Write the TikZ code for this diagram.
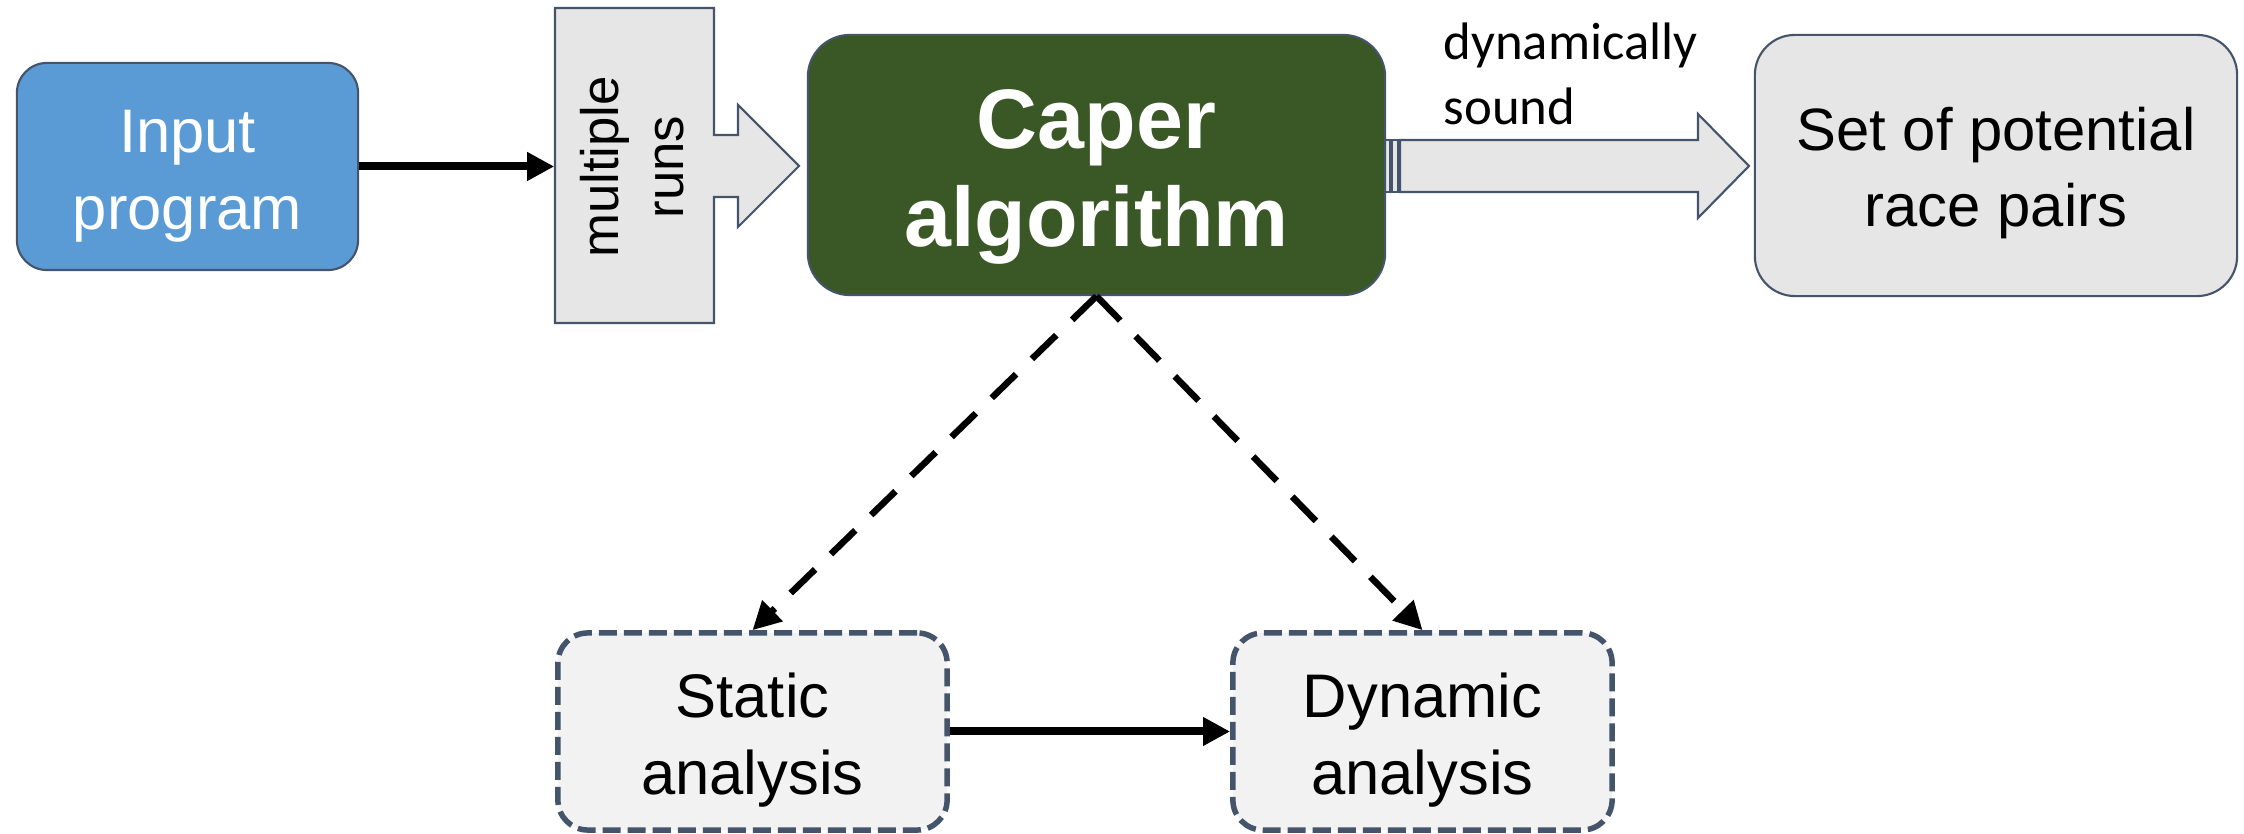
\documentclass[tikz,border=0pt]{standalone}
\usepackage{fontspec}
\setmainfont{Liberation Sans}
\newfontfamily\calib{Carlito}
\usetikzlibrary{arrows.meta}
\definecolor{inblue}{HTML}{5B9BD5}
\definecolor{cgreen}{HTML}{3A5726}
\definecolor{lgray}{HTML}{E6E6E6}
\definecolor{vlgray}{HTML}{F2F2F2}
\definecolor{slate}{HTML}{44546A}
\newcommand\lowtext[2]{\raisebox{-#1}[\height][\depth]{\begin{tabular}{@{}c@{}}#2\end{tabular}}}
\begin{document}
\begin{tikzpicture}[x=0.01cm,y=-0.01cm,
  box/.style={rectangle, draw=slate, line width=0.6pt, align=center, inner sep=0pt},
  dbox/.style={rectangle, rounded corners=0.3cm, draw=slate, fill=vlgray, line width=0.055cm,
    dash pattern=on 0.18cm off 0.07cm, align=center, inner sep=0pt, minimum height=1.97cm},
  shapeline/.style={draw=slate, fill=lgray, line width=0.6pt, line join=miter},
  conn/.style={-{Triangle[length=0.27cm,width=0.27cm]}, line width=0.08cm},
  dconn/.style={-{Triangle[length=0.28cm,width=0.28cm]}, line width=0.065cm, dash pattern=on 0.34cm off 0.22cm}]
\useasboundingbox (0,0) rectangle (2244,834);
\fill[white] (0,0) rectangle (2244,834);

% multiple runs arrow shape
\path[shapeline] (555,8) -- (714,8) -- (714,135) -- (738,135) -- (738,105) -- (799,166)
  -- (738,227) -- (738,197) -- (714,197) -- (714,323) -- (555,323) -- cycle;
\node[inner sep=0pt, minimum width=1.59cm, minimum height=3.15cm] (runs) at (634.5,165.5) {};
\node[rotate=90, align=center, inner sep=0pt, font=\fontsize{15}{18.5}\selectfont] (runstext) at (632,167) {multiple\\runs};

% striped arrow from Caper to result
\path[shapeline] (1400,140) -- (1698,140) -- (1698,114) -- (1749,166) -- (1698,218) -- (1698,192) -- (1400,192) -- cycle;
\path[shapeline] (1385,140) rectangle (1390,192);
\path[shapeline] (1392,140) rectangle (1398,192);
\node[anchor=north west, align=left, inner sep=0pt, font=\calib\fontsize{15}{18.5}\selectfont] (dyn) at (1443,22) {dynamically\\sound};

% main nodes
\node[box, fill=inblue, rounded corners=0.3cm, minimum width=3.41cm, minimum height=2.07cm,
  text=white, font=\fontsize{17.5}{22}\selectfont] (input) at (187.5,166.5) {\lowtext{0.09cm}{Input\\program}};
\node[box, fill=cgreen, rounded corners=0.42cm, minimum width=5.77cm, minimum height=2.6cm,
  text=white, font=\bfseries\fontsize{24}{28}\selectfont] (caper) at (1096.5,165) {\lowtext{0.13cm}{Caper\\algorithm}};
\node[box, fill=lgray, rounded corners=0.4cm, minimum width=4.82cm, minimum height=2.61cm,
  font=\fontsize{17}{21.5}\selectfont] (set) at (1996,165.5) {\lowtext{0.08cm}{Set of potential\\race pairs}};
\node[dbox, minimum width=3.89cm, font=\fontsize{17.5}{21.8}\selectfont] (static) at (752.5,731.5) {\lowtext{0.09cm}{Static\\analysis}};
\node[dbox, minimum width=3.79cm, font=\fontsize{17.5}{21.8}\selectfont] (dynamic) at (1422.5,731.5) {\lowtext{0.09cm}{Dynamic\\analysis}};

% connectors
\draw[conn] (input.east) -- (runs.west |- input.east);
\draw[conn] (static.east) -- (dynamic.west);
\draw[dconn] (caper.south) -- (static.north);
\draw[dconn] (caper.south) -- (dynamic.north);
\end{tikzpicture}
\end{document}
